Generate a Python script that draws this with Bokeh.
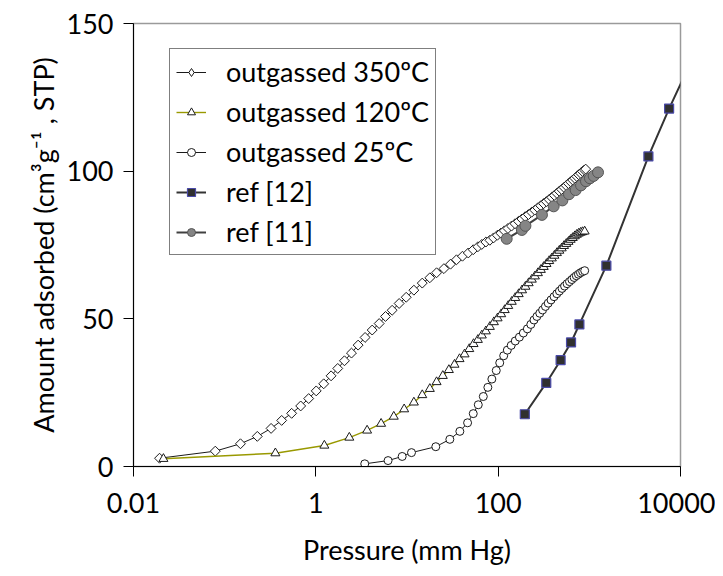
import math
from bokeh.plotting import figure
from bokeh.models import FixedTicker, CustomJSTickFormatter, Legend, LegendItem, Range1d
from bokeh.embed import file_html
from bokeh.resources import INLINE

# ---- axes ----
x_ticks = [0.01, 1, 100, 10000]
x_tick_labels = ["0.01", "1", "100", "10000"]
y_ticks = [0, 50, 100, 150]

# ---- series ----
s350_x = [0.0193, 0.0789, 0.149, 0.228, 0.323, 0.422, 0.543, 0.682, 0.835, 1.01, 1.22, 1.47,
          1.74, 2.06, 2.46, 2.91, 3.47, 4.15, 4.95, 5.81, 6.87, 8.20, 9.80, 11.9, 14.7, 17.8,
          21.1, 25.4, 30.0, 34.9, 40.6, 47.0, 53.3, 59.9, 66.2, 73.3, 81.1, 89, 98, 107, 117,
          128, 140, 153, 167, 182, 198, 215, 233, 252, 272, 293, 315, 338, 362, 387, 413, 440,
          468, 497, 527, 558, 590, 623, 657, 692, 728, 765, 803, 842, 882, 912]
s350_y = [2.8, 5.2, 7.7, 10.2, 12.9, 15.6, 18.0, 20.5, 23.0, 25.6, 28.0, 30.7,
          33.2, 35.8, 38.4, 41.1, 43.7, 46.2, 48.4, 50.8, 52.9, 55.2, 57.3, 59.7, 62.1, 63.9,
          65.6, 67.0, 68.5, 70.0, 71.2, 72.3, 73.4, 74.4, 75.2, 76.0, 76.6, 77.4, 78.3, 79.0, 79.8,
          80.6, 81.4, 82.2, 83.0, 83.8, 84.6, 85.3, 86.1, 86.8, 87.6, 88.3, 89.0, 89.7, 90.4, 91.1, 91.8, 92.5,
          93.2, 93.8, 94.5, 95.1, 95.8, 96.4, 97.0, 97.6, 98.2, 98.8, 99.3, 99.9, 100.4, 100.7]

s120_x = [0.0213, 0.36, 1.24, 2.33, 3.65, 5.20, 7.16, 9.31, 11.9, 14.7, 17.8, 21.1, 24.7, 28.8,
          33.2, 37.7, 42.8, 48.2, 53.7, 59.9, 66.2, 73.3, 81.1, 89.8, 98.6, 108, 118, 129, 141,
          154, 168, 183, 199, 216, 234, 253, 273, 294, 316, 339, 363, 388, 414, 441, 469, 498,
          528, 559, 591, 624, 658, 693, 729, 766, 804, 843, 889]
s120_y = [2.6, 4.5, 7.1, 9.8, 12.2, 14.5, 16.9, 19.4, 21.7, 24.2, 26.3, 28.6, 30.7, 32.7,
          34.5, 36.4, 38.0, 39.8, 41.5, 42.9, 44.4, 45.8, 47.3, 48.9, 50.2, 51.6, 53.0, 54.4, 55.8,
          57.1, 58.4, 59.7, 60.9, 62.1, 63.3, 64.4, 65.5, 66.6, 67.6, 68.6, 69.6, 70.5, 71.4, 72.3, 73.1, 73.9,
          74.7, 75.4, 76.1, 76.8, 77.4, 78.0, 78.5, 78.9, 79.2, 79.4, 79.6]

s25_x = [3.44, 6.2, 8.85, 11.2, 20.7, 29.5, 38.0, 46.2, 53.3, 60.5, 68.7, 77.1, 85.3, 95.3,
         104, 115, 126, 139, 154, 171, 189, 209, 228, 247, 266, 286, 307, 330, 354, 380, 410,
         440, 470, 502, 535, 570, 606, 643, 681, 720, 760, 800, 845, 889]
s25_y = [0.9, 2.0, 3.4, 4.7, 6.7, 9.2, 11.9, 14.8, 17.9, 20.9, 23.7, 26.8, 29.6, 32.5,
         35.1, 37.5, 39.4, 41.0, 42.5, 43.8, 45.2, 46.6, 48.1, 49.6, 50.8, 51.9, 53.0, 54.2, 55.3, 56.4, 57.5,
         58.5, 59.4, 60.3, 61.1, 61.9, 62.6, 63.3, 64.0, 64.6, 65.1, 65.6, 66.0, 66.3]

ref12_x = [196, 337, 484, 630, 778, 1538, 4446, 7500, 16000]
ref12_y = [17.7, 28.3, 36.0, 42.0, 48.1, 68.0, 105.0, 121.2, 143.0]

ref11_x = [124, 182, 199, 302, 406, 506, 598, 708, 811, 919, 1016, 1116, 1245]
ref11_y = [77.1, 80.1, 81.5, 85.2, 88.1, 90.1, 92.2, 93.6, 95.2, 96.6, 97.6, 98.4, 99.6]

labels = ["outgassed 350ºC", "outgassed 120ºC", "outgassed 25ºC", "ref [12]", "ref [11]"]

FONT = "Lato"
FS = "27px"

p = figure(width=715, height=568, x_axis_type="log",
           x_range=Range1d(0.01, 10000), y_range=Range1d(0, 150),
           output_backend="svg", toolbar_location=None,
           min_border_left=133, min_border_right=35, min_border_top=23, min_border_bottom=99)

p.background_fill_color = "white"
p.border_fill_color = "white"
p.outline_line_color = "#9a9a9a"
p.outline_line_width = 1.5
p.grid.visible = False

DARK = "#1a1a1a"
r350_l = p.line(s350_x, s350_y, line_color=DARK, line_width=1)
r350_m = p.scatter(s350_x, s350_y, marker="square", angle=math.pi / 4, size=7,
                   fill_color="white", line_color=DARK, line_width=1)
# legend-only proxy (not drawn in the plot: NaN position)
r350_leg = p.scatter(x=[float("nan")], y=[float("nan")], marker="diamond", size=9,
                     fill_color="white", line_color=DARK, line_width=1)
r120_l = p.line(s120_x, s120_y, line_color="#999900", line_width=1.4)
r120_m = p.scatter(s120_x, s120_y, marker="triangle", size=9,
                   fill_color="white", line_color=DARK, line_width=1)
r25_l = p.line(s25_x, s25_y, line_color=DARK, line_width=1)
r25_m = p.scatter(s25_x, s25_y, marker="circle", size=8,
                  fill_color="white", line_color=DARK, line_width=1)
r12_l = p.line(ref12_x, ref12_y, line_color="#333333", line_width=2)
r12_m = p.scatter(ref12_x, ref12_y, marker="square", size=9,
                  fill_color="#303030", line_color="#4a4aa8", line_width=1.2)
r11_l = p.line(ref11_x, ref11_y, line_color="#404040", line_width=2)
r11_m = p.scatter(ref11_x, ref11_y, marker="circle", size=11,
                  fill_color="#858585", line_color="#555555", line_width=1)

legend = Legend(items=[
    LegendItem(label=labels[0], renderers=[r350_l, r350_leg]),
    LegendItem(label=labels[1], renderers=[r120_l, r120_m]),
    LegendItem(label=labels[2], renderers=[r25_l, r25_m]),
    LegendItem(label=labels[3], renderers=[r12_l, r12_m]),
    LegendItem(label=labels[4], renderers=[r11_l, r11_m]),
], location=(36, 211))
legend.margin = 0
legend.padding = 6
legend.spacing = 7
legend.glyph_width = 30
legend.glyph_height = 20
legend.label_height = 27
legend.label_standoff = 20
legend.label_text_font = FONT
legend.label_text_font_size = FS
legend.label_text_color = "black"
legend.border_line_color = "black"
legend.border_line_width = 1
legend.background_fill_color = "white"
legend.background_fill_alpha = 1
p.add_layout(legend)

for ax in (p.xaxis[0], p.yaxis[0]):
    ax.axis_line_color = "black"
    ax.axis_line_width = 1
    ax.major_tick_line_color = "black"
    ax.major_tick_out = 10
    ax.major_tick_in = 0
    ax.minor_tick_out = 0
    ax.minor_tick_in = 0
    ax.major_label_text_font = FONT
    ax.major_label_text_font_size = FS
    ax.major_label_text_color = "black"
    ax.axis_label_text_font = FONT
    ax.axis_label_text_font_size = FS
    ax.axis_label_text_font_style = "normal"
    ax.axis_label_text_color = "black"

p.xaxis.ticker = FixedTicker(ticks=x_ticks, minor_ticks=[])
p.xaxis.formatter = CustomJSTickFormatter(
    args=dict(vals=x_ticks, labs=x_tick_labels),
    code="""
    for (let i = 0; i < vals.length; i++) {
        if (Math.abs(Math.log10(vals[i]) - Math.log10(tick)) < 1e-6) return labs[i];
    }
    return '';
    """)
p.yaxis.ticker = FixedTicker(ticks=y_ticks, minor_ticks=[])
p.xaxis.major_label_standoff = 16
p.yaxis.major_label_standoff = 10
p.xaxis.axis_label = "Pressure (mm Hg)"
p.yaxis.axis_label = "Amount adsorbed (cm³g⁻¹ , STP)"
p.xaxis.axis_label_standoff = 17
p.yaxis.axis_label_standoff = 4

open("out.html", "w").write(file_html(p, INLINE))
